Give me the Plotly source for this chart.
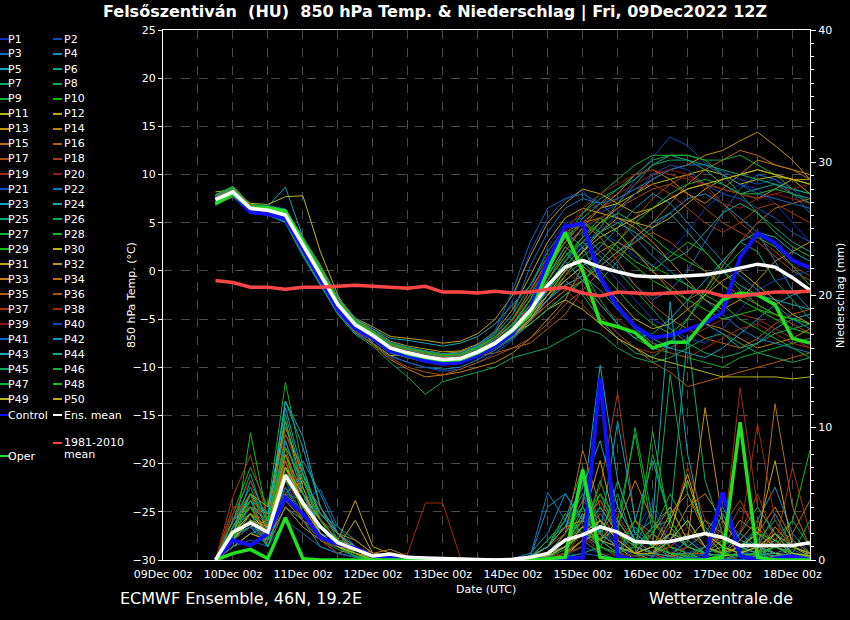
import plotly.graph_objects as go
import pandas as pd

# ---------------- time axis ----------------
times = pd.date_range("2022-12-09 18:00", periods=35, freq="6h")
x_start = "2022-12-09 00:00"
x_end = "2022-12-18 06:00"

# ---------------- main series: 850 hPa temperature (degC) ----------------
temp_mean = [7.4, 8.2, 6.5, 6.3, 5.8, 2.7, -0.4, -3.5, -5.6, -6.7, -8.0, -8.5, -8.9, -9.2, -9.1, -8.4, -7.5, -6.1, -4.1, -1.5, 0.4, 1.1, 0.4, -0.1, -0.5, -0.6, -0.6, -0.5, -0.4, -0.1, 0.3, 0.7, 0.4, -0.7, -2.0]
temp_clim = [-1.0, -1.2, -1.7, -1.7, -1.9, -1.7, -1.7, -1.6, -1.5, -1.6, -1.7, -1.8, -1.6, -2.2, -2.2, -2.3, -2.1, -2.3, -2.2, -1.9, -1.7, -2.3, -2.6, -2.2, -2.3, -2.4, -2.3, -2.2, -2.1, -2.6, -2.6, -2.4, -2.2, -2.2, -2.1]
temp_control = [7.2, 8.0, 6.1, 5.9, 5.4, 2.2, -1.0, -4.0, -6.0, -7.0, -8.3, -8.8, -9.3, -9.6, -9.5, -8.8, -7.8, -6.5, -4.0, 1.0, 4.6, 4.9, -0.6, -3.7, -5.8, -6.9, -6.7, -6.1, -5.4, -4.3, 1.4, 3.9, 2.9, 1.1, 0.3]
temp_oper = [7.0, 8.0, 6.5, 6.5, 6.2, 3.0, -0.3, -3.4, -5.5, -6.6, -8.0, -8.6, -9.0, -9.3, -9.2, -8.5, -7.5, -6.2, -4.5, 0.0, 4.0, 0.0, -5.3, -5.8, -6.4, -8.0, -7.4, -7.4, -5.1, -3.0, -2.3, -2.5, -3.5, -7.0, -7.5]

# ---------------- main series: precipitation (mm / 6h) ----------------
prec_mean = [0, 2.1, 2.8, 2.1, 6.4, 4.3, 2.5, 1.3, 0.8, 0.3, 0.45, 0.2, 0.15, 0.1, 0.05, 0.0, 0.0, 0.05, 0.2, 0.5, 1.5, 1.9, 2.5, 2.1, 1.4, 1.3, 1.4, 1.7, 2.0, 1.7, 1.1, 1.1, 1.1, 1.1, 1.3]
prec_control = [0, 1.5, 1.1, 2.0, 4.7, 3.5, 1.7, 1.2, 0.9, 0.3, 0.2, 0.1, 0, 0, 0, 0, 0, 0, 0, 0.1, 0.1, 0.2, 13.7, 0.3, 0, 0, 0, 0, 0.1, 5.1, 0.3, 0, 0.1, 0.3, 0]
prec_oper = [0, 0.5, 0.8, 0.1, 3.2, 0.1, 0, 0, 0, 0, 0, 0, 0, 0, 0, 0, 0, 0, 0, 0.1, 0.2, 6.8, 0.2, 0, 0, 0, 0, 0, 0, 0.2, 10.4, 0.2, 0, 0, 0]

# ---------------- ensemble members: temperature ----------------
temp_P1 = [7.0, 8.0, 6.2, 6.0, 5.5, 2.0, -1.0, -4.2, -6.3, -7.2, -8.6, -9.0, -9.5, -9.8, -9.4, -8.6, -7.0, -5.0, -2.0, 2.5, 5.0, 5.5, 4.0, 3.0, 1.5, 0.5, 2.0, 4.0, 6.5, 8.0, 9.0, 8.5, 7.0, 5.0, 3.0]
temp_P2 = [7.2, 8.3, 6.4, 6.5, 6.2, 3.0, 0.0, -3.0, -5.0, -6.2, -7.5, -8.0, -8.6, -9.0, -8.8, -8.0, -6.5, -3.0, 2.0, 5.5, 7.4, 8.4, 6.0, 7.0, 9.5, 11.8, 13.9, 13.0, 11.2, 10.3, 9.5, 9.0, 9.5, 8.5, 7.0]
temp_P3 = [7.5, 8.4, 6.6, 6.4, 5.9, 2.8, -0.3, -3.4, -5.5, -6.6, -7.8, -8.3, -8.7, -9.0, -8.9, -8.1, -7.2, -5.5, -3.0, 0.5, 3.0, 4.0, 2.0, 0.5, -1.5, -3.0, -2.0, 0.0, 3.0, 6.0, 8.5, 10.0, 9.5, 8.0, 6.0]
temp_P4 = [6.8, 7.8, 6.0, 5.8, 5.0, 1.5, -1.5, -4.5, -6.5, -7.5, -8.8, -9.5, -10.0, -10.2, -10.0, -9.2, -8.2, -7.0, -5.5, -4.0, -2.5, -1.0, 0.5, 2.0, 3.0, 4.5, 6.0, 7.5, 8.0, 7.0, 5.5, 4.0, 1.0, -2.0, -4.0]
temp_P5 = [7.6, 8.6, 6.8, 6.7, 8.7, 3.5, 0.4, -2.8, -5.0, -6.0, -7.0, -7.2, -7.5, -7.8, -7.5, -6.8, -5.5, -3.5, -1.5, 1.5, 4.0, 2.5, -1.0, -4.0, -6.0, -7.5, -8.0, -7.0, -5.5, -6.5, -8.0, -7.5, -6.0, -5.0, -4.5]
temp_P6 = [7.3, 8.1, 6.5, 6.2, 5.6, 2.5, -0.6, -3.8, -5.8, -6.9, -8.2, -8.8, -9.2, -9.4, -9.3, -8.7, -7.9, -6.5, -4.5, -2.0, 0.0, 2.0, 4.5, 7.0, 9.0, 11.0, 12.0, 11.5, 10.5, 9.0, 8.0, 8.5, 9.0, 8.0, 7.5]
temp_P7 = [7.1, 7.9, 6.3, 6.1, 5.7, 2.6, -0.5, -3.6, -5.9, -7.0, -8.3, -8.9, -9.4, -9.7, -9.6, -8.9, -8.0, -6.8, -5.0, -3.0, -1.0, -2.5, -5.0, -7.0, -8.5, -9.0, -7.5, -5.0, -2.0, 1.0, 3.0, 2.0, -1.0, -3.0, -5.0]
temp_P8 = [7.8, 8.7, 6.9, 6.6, 6.0, 3.2, 0.2, -3.0, -5.2, -6.3, -7.6, -8.0, -8.3, -8.6, -8.5, -7.7, -6.5, -4.5, -1.5, 2.0, 4.5, 6.0, 7.5, 8.5, 10.0, 11.5, 12.0, 12.0, 11.5, 11.5, 12.0, 11.0, 10.0, 8.5, 8.0]
temp_P9 = [7.0, 7.9, 6.2, 6.3, 5.5, 2.2, -0.8, -3.9, -6.0, -7.0, -8.3, -8.7, -9.0, -9.3, -9.2, -8.5, -7.6, -6.0, -3.5, -0.5, 2.0, 0.0, -3.0, -5.5, -7.0, -8.0, -8.5, -9.0, -9.5, -10.0, -9.0, -8.5, -8.0, -7.5, -7.0]
temp_P10 = [7.4, 8.3, 6.6, 6.4, 6.0, 3.0, 0.0, -3.2, -5.4, -6.5, -7.8, -8.3, -8.7, -9.0, -8.9, -8.2, -7.3, -5.8, -3.8, -1.0, 1.5, 3.5, 5.0, 6.0, 5.0, 3.5, 2.0, 1.0, 0.0, -1.5, -3.0, -4.0, -5.0, -6.0, -6.5]
temp_P11 = [8.2, 8.4, 7.0, 6.9, 7.7, 7.8, 2.0, -2.5, -5.5, -7.5, -8.8, -8.6, -8.3, -8.6, -8.4, -7.8, -7.0, -5.5, -3.0, 0.5, 3.0, 5.0, 6.5, 7.0, 8.0, 9.0, 9.5, 10.0, 10.5, 10.0, 9.0, 9.5, 9.8, 9.5, 9.0]
temp_P12 = [7.9, 8.5, 6.8, 6.6, 6.2, 3.4, 0.5, -2.8, -5.0, -6.0, -7.3, -7.8, -8.1, -8.4, -8.3, -7.6, -6.3, -4.0, -0.5, 3.0, 5.5, 6.5, 6.0, 5.5, 5.0, 4.5, 5.5, 7.0, 8.5, 9.5, 10.0, 10.5, 10.0, 9.5, 8.0]
temp_P13 = [7.2, 8.0, 6.4, 6.2, 5.8, 2.6, -0.5, -3.7, -5.8, -6.9, -8.2, -8.6, -9.0, -9.3, -9.1, -8.3, -7.4, -6.2, -4.0, -1.5, 1.0, 3.0, 5.0, 6.5, 8.0, 9.5, 10.5, 11.0, 12.0, 12.5, 13.5, 14.4, 13.0, 11.5, 9.5]
temp_P14 = [6.9, 7.7, 6.1, 5.9, 5.2, 1.8, -1.3, -4.3, -6.4, -7.6, -9.2, -10.2, -11.0, -10.8, -10.5, -10.0, -9.5, -8.5, -7.0, -5.0, -3.0, 0.5, 2.0, 3.0, 2.0, 0.0, -2.0, -4.0, -5.5, -6.0, -7.0, -8.0, -7.5, -7.0, -6.0]
temp_P15 = [7.5, 8.3, 6.6, 6.5, 6.1, 2.9, -0.2, -3.3, -5.4, -6.5, -7.7, -8.2, -8.6, -8.9, -8.8, -8.0, -7.0, -5.0, -2.0, 1.0, 3.5, 5.0, 5.5, 4.0, 2.0, 0.0, -1.5, -3.0, -2.0, 0.5, 3.0, 5.0, 6.5, 7.0, 7.5]
temp_P16 = [7.0, 7.8, 6.2, 6.0, 5.4, 2.3, -0.9, -4.0, -6.1, -7.1, -8.4, -8.9, -9.3, -9.5, -9.4, -8.8, -8.5, -8.0, -7.5, -6.0, -4.5, -2.0, -4.5, -6.5, -8.0, -9.5, -10.5, -12.0, -11.5, -11.0, -10.5, -10.0, -9.5, -9.0, -8.5]
temp_P17 = [7.3, 8.1, 6.5, 6.3, 5.9, 2.8, -0.4, -3.5, -5.7, -6.8, -8.1, -8.6, -9.0, -9.3, -9.2, -8.5, -7.7, -6.3, -4.0, -0.5, 2.5, 4.5, 5.5, 6.5, 7.5, 8.5, 9.0, 8.0, 6.5, 5.0, 4.0, 3.0, 1.5, 0.0, -1.0]
temp_P18 = [7.6, 8.5, 6.7, 6.6, 6.0, 3.1, 0.1, -3.1, -5.3, -6.4, -7.7, -8.3, -8.8, -9.1, -9.0, -8.3, -7.4, -6.0, -4.5, -3.0, -1.5, -0.5, 1.0, 3.0, 5.5, 7.5, 9.0, 10.0, 9.0, 7.0, 5.0, 3.5, 2.0, 0.5, -0.5]
temp_P19 = [7.1, 7.9, 6.3, 6.1, 5.6, 2.4, -0.7, -3.9, -6.0, -7.1, -8.4, -8.8, -9.1, -9.4, -9.3, -8.6, -7.8, -6.7, -5.2, -3.5, -2.0, -3.5, -5.5, -7.0, -8.0, -8.5, -8.0, -7.0, -6.0, -5.0, -4.5, -5.0, -6.0, -7.0, -8.0]
temp_P20 = [7.4, 8.2, 6.5, 6.3, 5.8, 2.7, -0.4, -3.4, -5.5, -6.6, -7.9, -8.4, -8.8, -9.1, -9.0, -8.3, -7.3, -5.5, -2.5, 1.5, 4.5, 6.0, 7.0, 8.0, 9.0, 10.0, 10.5, 10.0, 8.5, 7.0, 6.5, 7.5, 8.0, 7.5, 7.0]
temp_P21 = [7.0, 8.0, 6.1, 5.9, 5.2, 1.9, -1.2, -4.4, -6.5, -7.5, -8.9, -9.5, -10.0, -10.4, -10.2, -9.5, -8.5, -7.2, -5.0, -2.0, 1.0, 3.0, 4.0, 6.0, 8.0, 10.0, 11.0, 10.5, 9.0, 8.0, 7.5, 6.5, 5.5, 4.0, 3.0]
temp_P22 = [7.7, 8.6, 6.8, 6.7, 6.3, 3.4, 0.3, -2.9, -5.1, -6.2, -7.5, -8.0, -8.4, -8.7, -8.6, -7.8, -6.6, -4.5, 0.5, 4.0, 6.5, 7.5, 7.0, 5.5, 3.5, 1.5, 0.0, -1.5, -3.0, -4.5, -6.0, -7.0, -7.5, -8.0, -8.5]
temp_P23 = [7.2, 8.1, 6.4, 6.2, 5.7, 2.5, -0.6, -3.7, -5.8, -6.9, -8.2, -8.7, -9.1, -9.4, -9.3, -8.6, -7.7, -6.4, -4.8, -3.0, -1.5, -0.5, -2.0, -4.0, -6.0, -7.0, -8.0, -8.5, -9.0, -8.0, -6.5, -5.0, -3.5, -2.5, -2.0]
temp_P24 = [7.5, 8.3, 6.6, 6.4, 5.9, 2.8, -0.3, -3.4, -5.6, -6.7, -8.0, -8.5, -8.9, -9.2, -9.1, -8.4, -7.5, -6.0, -3.5, -0.5, 2.5, 1.0, -1.0, 1.0, 3.5, 5.0, 6.0, 4.0, 2.0, 0.0, -1.5, -2.5, -3.0, -3.5, -4.0]
temp_P25 = [7.9, 8.8, 6.9, 6.7, 6.3, 3.3, 0.3, -3.0, -5.2, -6.3, -7.6, -8.1, -8.5, -8.8, -8.7, -8.0, -7.0, -5.5, -3.0, 0.0, 3.0, 5.5, 7.0, 8.5, 9.5, 11.0, 11.5, 11.5, 11.0, 10.5, 10.0, 9.5, 9.0, 8.5, 8.0]
temp_P26 = [6.8, 7.7, 6.0, 5.8, 5.1, 1.7, -1.4, -4.5, -6.6, -7.8, -9.5, -11.0, -12.8, -11.5, -11.0, -10.5, -10.0, -9.0, -8.5, -8.0, -7.0, -6.0, -6.5, -8.0, -9.0, -9.5, -9.0, -8.0, -7.0, -6.5, -7.5, -8.5, -9.0, -9.5, -9.0]
temp_P27 = [7.4, 8.2, 6.5, 6.3, 5.8, 2.7, -0.4, -3.5, -5.6, -6.7, -8.0, -8.5, -8.9, -9.2, -9.1, -8.4, -7.4, -5.8, -3.0, 0.5, 3.5, 6.0, 8.0, 9.5, 11.0, 12.0, 12.0, 12.0, 11.5, 10.0, 8.0, 6.0, 4.0, 2.5, 1.5]
temp_P28 = [7.1, 7.9, 6.3, 6.1, 5.6, 2.5, -0.6, -3.7, -5.8, -6.9, -8.2, -8.6, -9.0, -9.3, -9.2, -8.5, -7.6, -6.3, -4.5, -2.5, -0.5, 1.0, 0.0, -2.0, -4.0, -5.5, -6.5, -5.0, -2.5, 0.0, 2.0, 3.5, 2.5, 0.5, -1.5]
temp_P29 = [7.6, 8.4, 6.7, 6.5, 6.1, 3.0, -0.1, -3.2, -5.4, -6.5, -7.8, -8.4, -8.8, -9.1, -9.0, -8.3, -7.3, -5.9, -4.0, -2.0, 0.0, 1.5, 3.0, 2.0, 0.5, -1.0, -2.0, -3.0, -4.0, -5.0, -4.5, -4.0, -4.5, -5.0, -5.5]
temp_P30 = [7.3, 8.1, 6.4, 6.2, 5.7, 2.6, -0.5, -3.6, -5.7, -6.8, -8.1, -8.6, -9.0, -9.3, -9.2, -8.5, -7.6, -6.5, -5.5, -4.0, -3.0, -4.0, -5.5, -7.0, -8.0, -9.0, -9.5, -10.0, -10.5, -11.0, -11.0, -11.0, -11.0, -11.2, -11.0]
temp_P31 = [7.8, 8.6, 6.9, 6.7, 6.4, 3.5, 0.6, -2.7, -4.9, -5.8, -6.8, -7.0, -7.2, -7.5, -7.3, -6.5, -5.0, -2.5, 1.5, 5.0, 7.0, 8.5, 8.0, 7.0, 6.0, 6.5, 7.5, 8.5, 9.0, 8.5, 8.0, 7.5, 8.5, 9.5, 9.5]
temp_P32 = [7.0, 7.8, 6.2, 6.0, 5.4, 2.2, -1.0, -4.1, -6.2, -7.2, -8.5, -9.0, -9.4, -9.7, -9.5, -8.8, -7.9, -6.8, -5.2, -3.0, -0.5, 2.0, 4.0, 5.5, 4.5, 3.0, 1.0, -1.0, -3.0, -4.0, -3.0, -1.0, 1.0, 2.0, 3.0]
temp_P33 = [7.5, 8.3, 6.6, 6.4, 6.0, 2.9, -0.2, -3.3, -5.4, -6.5, -7.8, -8.3, -8.7, -9.0, -8.9, -8.2, -7.3, -6.0, -4.0, -1.0, 2.0, 4.5, 6.5, 8.0, 10.0, 10.5, 9.5, 8.0, 7.0, 8.5, 10.0, 11.5, 11.0, 10.5, 10.0]
temp_P34 = [7.2, 8.0, 6.4, 6.2, 5.7, 2.6, -0.5, -3.6, -5.7, -6.8, -8.1, -8.6, -9.0, -9.3, -9.2, -8.5, -7.6, -6.5, -5.0, -3.5, -2.0, -1.0, 0.5, 2.0, 3.5, 5.0, 7.0, 9.0, 10.5, 11.5, 12.5, 12.0, 11.0, 10.5, 9.5]
temp_P35 = [7.7, 8.5, 6.8, 6.6, 6.2, 3.2, 0.2, -3.0, -5.2, -6.3, -7.6, -8.1, -8.5, -8.8, -8.7, -7.9, -6.8, -5.0, -2.0, 1.0, 4.0, 5.0, 3.5, 1.0, -1.5, -3.5, -5.0, -6.0, -7.0, -7.5, -8.0, -7.0, -5.5, -4.5, -4.0]
temp_P36 = [6.9, 7.8, 6.1, 5.9, 5.3, 2.0, -1.1, -4.2, -6.3, -7.5, -9.0, -10.0, -10.5, -10.8, -10.2, -9.5, -8.8, -8.0, -7.0, -5.5, -3.5, -2.0, 0.0, 1.5, 3.0, 4.0, 3.0, 1.5, 0.0, -1.5, -2.5, -3.5, -4.5, -5.5, -6.5]
temp_P37 = [7.4, 8.2, 6.5, 6.3, 5.8, 2.7, -0.4, -3.5, -5.6, -6.7, -8.0, -8.5, -8.9, -9.2, -9.1, -8.4, -7.5, -6.0, -3.5, 0.0, 3.0, 5.0, 6.5, 7.5, 8.5, 9.0, 8.0, 6.5, 5.0, 4.0, 5.0, 6.5, 7.0, 6.0, 5.0]
temp_P38 = [7.1, 7.9, 6.3, 6.1, 5.5, 2.4, -0.7, -3.8, -5.9, -7.0, -8.3, -8.8, -9.2, -9.5, -9.4, -8.7, -7.8, -6.6, -4.8, -2.5, 0.0, -1.5, -3.5, -5.0, -6.5, -7.5, -8.5, -9.0, -8.0, -7.0, -6.0, -5.5, -6.5, -7.5, -8.0]
temp_P39 = [7.6, 8.4, 6.7, 6.5, 6.1, 3.0, -0.1, -3.2, -5.4, -6.5, -7.8, -8.3, -8.7, -9.0, -8.9, -8.1, -7.0, -5.2, -2.5, 1.0, 4.0, 6.5, 8.0, 9.0, 10.0, 10.5, 10.0, 9.5, 9.0, 8.5, 8.0, 7.5, 8.0, 8.5, 9.0]
temp_P40 = [7.3, 8.1, 6.4, 6.2, 5.7, 2.6, -0.5, -3.6, -5.7, -6.8, -8.1, -8.6, -9.0, -9.3, -9.2, -8.5, -7.6, -6.2, -4.2, -1.5, 1.0, 2.5, 1.0, -1.0, -3.0, -5.0, -6.0, -7.0, -7.5, -6.0, -4.0, -2.0, -1.0, -0.5, 0.0]
temp_P41 = [7.8, 8.7, 6.9, 6.8, 6.4, 3.5, 0.5, -2.7, -4.9, -6.0, -7.4, -7.9, -8.3, -8.6, -8.5, -7.7, -6.2, -2.0, 3.0, 6.5, 7.5, 8.0, 7.0, 7.5, 8.5, 9.5, 10.5, 11.0, 11.0, 10.0, 9.0, 8.0, 7.5, 7.0, 6.5]
temp_P42 = [7.0, 7.9, 6.2, 6.0, 5.4, 2.2, -0.9, -4.0, -6.1, -7.1, -8.4, -8.9, -9.3, -9.6, -9.5, -8.8, -7.9, -6.6, -5.0, -3.0, -1.0, 0.5, 2.5, 4.5, 6.5, 8.0, 7.0, 5.0, 3.0, 1.0, -0.5, -2.0, -3.5, -5.0, -6.0]
temp_P43 = [7.5, 8.3, 6.6, 6.4, 5.9, 2.8, -0.3, -3.4, -5.5, -6.6, -7.9, -8.4, -8.8, -9.1, -9.0, -8.3, -7.4, -6.0, -4.0, -1.5, 1.0, -1.0, -3.5, -5.5, -7.0, -6.5, -5.0, -3.0, -1.0, 1.0, 3.0, 4.0, 3.5, 2.0, 1.0]
temp_P44 = [7.2, 8.0, 6.4, 6.2, 5.6, 2.5, -0.6, -3.7, -5.8, -6.9, -8.2, -8.7, -9.1, -9.4, -9.3, -8.6, -7.7, -6.4, -4.5, -2.0, 0.5, 2.5, 4.0, 5.0, 4.0, 2.5, 1.0, 2.0, 4.0, 6.0, 7.0, 6.0, 4.5, 3.0, 2.0]
temp_P45 = [7.6, 8.5, 6.7, 6.6, 6.1, 3.1, 0.1, -3.1, -5.3, -6.4, -7.7, -8.2, -8.6, -8.9, -8.8, -8.1, -7.1, -5.6, -3.5, -1.0, 1.5, 3.0, 1.5, 0.0, -2.0, -4.0, -6.0, -7.5, -8.5, -9.0, -8.5, -7.5, -6.5, -6.0, -5.5]
temp_P46 = [7.0, 7.8, 6.2, 6.0, 5.3, 2.1, -1.0, -4.1, -6.2, -7.2, -8.5, -9.0, -9.4, -9.7, -9.6, -8.9, -8.0, -6.9, -5.5, -4.0, -2.5, -1.0, 1.0, 3.0, 5.0, 6.5, 8.0, 9.0, 9.5, 9.0, 8.0, 8.0, 8.5, 8.0, 7.0]
temp_P47 = [7.4, 8.2, 6.5, 6.3, 5.8, 2.7, -0.4, -3.5, -5.6, -6.7, -8.0, -8.5, -8.9, -9.2, -9.1, -8.4, -7.5, -6.1, -4.0, -1.5, 1.0, 3.5, 5.5, 4.0, 2.0, 0.5, -0.5, -1.5, -2.5, -3.5, -5.0, -6.0, -7.0, -8.0, -9.0]
temp_P48 = [7.9, 8.7, 6.9, 6.7, 6.3, 3.4, 0.4, -2.9, -5.1, -6.2, -7.5, -8.0, -8.4, -8.7, -8.6, -7.9, -6.8, -5.0, -2.5, 0.5, 3.5, 5.0, 4.0, 2.5, 1.0, 0.0, 1.5, 3.0, 2.0, 0.0, -2.0, -3.5, -4.5, -5.0, -5.5]
temp_P49 = [7.1, 7.9, 6.3, 6.1, 5.5, 2.3, -0.8, -3.9, -6.0, -7.0, -8.3, -8.8, -9.2, -9.5, -9.4, -8.7, -7.8, -6.7, -5.0, -2.5, 0.0, 2.0, 3.5, 4.5, 5.5, 6.5, 7.5, 8.5, 9.0, 9.5, 10.0, 10.5, 10.0, 9.5, 9.0]
temp_P50 = [7.4, 8.3, 6.5, 6.4, 5.8, 2.7, -0.4, -3.5, -5.6, -6.7, -8.0, -8.5, -8.9, -9.2, -9.1, -8.4, -7.5, -6.3, -4.5, -2.5, -1.0, 0.5, -1.0, -3.0, -5.0, -6.0, -5.5, -4.0, -2.5, -1.0, 0.0, -1.5, -3.0, -4.5, -5.5]

# ---------------- ensemble members: precipitation ----------------
prec_P1 = [0, 1.5, 3.0, 1.0, 5.5, 3.5, 1.5, 0.5, 0.3, 0, 0, 0, 0, 0, 0, 0, 0, 0, 0.2, 0.5, 1.0, 2.5, 4.0, 1.0, 0.3, 0, 0.5, 2.0, 0.5, 0, 0, 0.3, 1.0, 0.5, 0]
prec_P2 = [0, 2.5, 3.5, 2.0, 7.0, 4.0, 2.0, 1.0, 0.5, 0.2, 0, 0, 0, 0, 0, 0, 0, 0, 0, 0, 0.3, 1.0, 0.5, 0, 0, 0.2, 1.5, 0.5, 0, 0.5, 0, 0, 0.2, 0, 0]
prec_P3 = [0, 1.0, 2.0, 2.5, 9.0, 5.5, 3.0, 1.5, 1.0, 0.3, 0.5, 0.2, 0, 0, 0, 0, 0, 0, 0.3, 1.0, 2.5, 6.0, 3.0, 0.5, 1.0, 4.0, 1.0, 0, 0.5, 2.0, 0.5, 0, 0.3, 0.8, 0.2]
prec_P4 = [0, 3.0, 4.5, 1.5, 6.0, 7.5, 5.0, 2.0, 0.5, 0, 0, 0, 0, 0, 0, 0, 0, 0.1, 0.5, 2.0, 5.0, 3.0, 1.0, 0.5, 2.5, 1.0, 0.3, 0, 0, 0.5, 1.5, 3.0, 5.5, 2.0, 0.5]
prec_P5 = [0, 2.0, 6.0, 3.0, 12.0, 9.3, 4.0, 1.5, 0.5, 0, 0, 0, 0, 0, 0, 0, 0, 0, 0.2, 0.5, 2.0, 4.0, 14.7, 6.0, 2.0, 3.0, 19.5, 8.0, 2.0, 1.0, 0.5, 2.5, 1.0, 0.5, 0.3]
prec_P6 = [0, 1.8, 2.5, 1.0, 4.0, 3.0, 1.0, 0.5, 0.2, 0, 0, 0, 0, 0, 0, 0, 0, 0, 0, 0, 0.5, 1.5, 0.5, 0, 0, 0, 0, 0.3, 0, 0, 0, 0.5, 0, 0, 0]
prec_P7 = [0, 2.5, 5.0, 2.5, 11.0, 6.0, 3.5, 2.5, 1.5, 0.5, 0.3, 0, 0, 0, 0, 0, 0, 0, 0.2, 1.5, 3.0, 7.0, 2.0, 5.0, 1.0, 2.5, 4.0, 1.5, 0.5, 0, 0.3, 1.0, 0.5, 0.2, 0]
prec_P8 = [0, 2.0, 2.5, 1.5, 5.0, 3.5, 1.5, 0.8, 0.3, 0, 0, 0, 0, 0, 0, 0, 0, 0, 0, 0, 0.2, 0.5, 1.0, 0.3, 0, 0, 0.2, 0, 0, 0, 0, 0.3, 0.5, 0, 0]
prec_P9 = [0, 3.5, 7.0, 4.0, 13.4, 7.0, 3.0, 1.0, 0.5, 0, 0, 0, 0, 0, 0, 0, 0, 0, 0.3, 1.0, 3.5, 2.0, 5.0, 3.0, 9.5, 2.0, 5.0, 2.5, 1.0, 0.3, 0, 0.5, 1.5, 3.0, 1.0]
prec_P10 = [0, 1.0, 9.6, 3.0, 8.0, 4.0, 2.0, 1.0, 0.3, 0, 0, 0, 0, 0, 0, 0, 0, 0, 0, 0.5, 1.0, 2.0, 4.0, 2.0, 0.5, 1.0, 0.5, 0, 0, 0, 0.5, 0.3, 1.0, 3.0, 8.3]
prec_P11 = [0, 1.5, 3.5, 2.5, 7.5, 3.5, 1.5, 1.0, 3.0, 0.5, 0.3, 0, 0, 0, 0, 0, 0, 0, 0, 0, 0.3, 1.5, 2.0, 1.0, 0.5, 1.0, 2.0, 1.5, 3.0, 2.0, 1.0, 0.5, 1.0, 0.3, 0.5]
prec_P12 = [0, 2.0, 3.0, 2.0, 6.0, 5.0, 3.0, 1.5, 4.5, 1.0, 0.5, 0, 0, 0, 0, 0, 0, 0, 0.1, 0.5, 1.5, 3.0, 2.0, 1.0, 0, 0, 0.5, 0, 0, 0, 0, 0, 0.3, 0.5, 0.2]
prec_P13 = [0, 1.0, 2.0, 1.5, 4.0, 2.5, 1.5, 0.5, 1.0, 0, 0, 0, 0, 0, 0, 0, 0, 0, 0, 0.2, 0.5, 1.0, 3.0, 1.5, 0.5, 0, 0, 0.5, 0, 0, 0.5, 1.0, 0.5, 0, 0]
prec_P14 = [0, 2.5, 4.0, 3.5, 10.0, 6.5, 3.5, 2.0, 1.5, 0.5, 0.8, 0.3, 0, 0, 0, 0, 0, 0, 0.2, 0.5, 1.0, 3.5, 1.5, 2.5, 6.0, 3.0, 1.5, 4.0, 5.0, 3.0, 1.0, 2.0, 4.0, 1.5, 0.5]
prec_P15 = [0, 3.0, 5.0, 1.0, 5.0, 6.0, 4.0, 2.0, 0.5, 0, 0, 0, 0, 0, 0, 0, 0, 0, 0, 0.3, 2.0, 8.3, 4.0, 2.0, 1.0, 0.5, 0, 0, 1.0, 2.0, 0.5, 0.3, 11.8, 4.0, 1.0]
prec_P16 = [0, 1.5, 3.0, 2.0, 8.5, 4.0, 2.0, 1.0, 0.5, 0.2, 0, 0, 0, 0, 0, 0, 0, 0, 0.3, 1.0, 2.0, 4.5, 3.0, 1.5, 3.0, 2.0, 1.0, 0.5, 0.5, 1.0, 0.5, 1.5, 0.5, 0.3, 0.2]
prec_P17 = [0, 4.0, 4.0, 2.5, 9.0, 5.0, 3.5, 2.0, 1.0, 0.3, 0, 0, 0, 0, 0, 0, 0, 0, 0, 0, 0.5, 2.0, 3.5, 1.5, 0.5, 0.3, 0, 1.0, 0.5, 2.5, 4.5, 2.0, 1.0, 0.5, 0.3]
prec_P18 = [0, 4.8, 7.9, 3.0, 7.0, 4.5, 2.0, 1.0, 0.5, 0, 0, 0, 0, 0, 0, 0, 0, 0, 0, 0.2, 1.0, 3.0, 5.5, 12.6, 3.0, 1.0, 2.5, 1.0, 0.5, 3.0, 2.0, 5.0, 1.5, 0.5, 0.2]
prec_P19 = [0, 3.5, 6.0, 2.0, 7.5, 5.0, 3.0, 1.5, 0.8, 0.3, 0.2, 0.5, 4.3, 4.3, 0.2, 0, 0, 0, 0.2, 0.5, 1.0, 2.5, 1.5, 3.5, 1.0, 0.5, 2.0, 7.0, 3.0, 1.0, 13.0, 4.0, 2.0, 1.0, 0.5]
prec_P20 = [0, 2.0, 4.0, 3.0, 6.5, 3.0, 1.5, 0.5, 0.2, 0, 0, 0, 0, 0, 0, 0, 0, 0, 0, 0.3, 1.0, 2.0, 0.5, 0.3, 0, 0, 0.2, 0, 0, 0.3, 0, 0, 0.5, 0.3, 0]
prec_P21 = [0, 1.5, 2.5, 2.0, 6.0, 3.0, 2.0, 1.0, 0.3, 0, 0, 0, 0, 0, 0, 0, 0, 0, 0, 0.5, 1.5, 2.0, 3.0, 1.0, 0.5, 0.3, 0, 0.5, 0.3, 0, 0, 0.5, 0.3, 0, 0]
prec_P22 = [0, 2.0, 3.5, 1.5, 5.0, 4.5, 5.3, 2.5, 1.0, 0.3, 0, 0, 0, 0, 0, 0, 0, 0, 0.3, 5.1, 3.0, 2.0, 1.0, 0.5, 0.3, 0, 0.3, 0, 0, 0, 0.5, 0.5, 0, 0, 0]
prec_P23 = [0, 2.5, 4.5, 3.5, 11.5, 6.5, 3.5, 2.0, 0.8, 0.2, 0, 0, 0, 0, 0, 0, 0, 0, 0.2, 1.0, 2.5, 5.0, 2.0, 10.5, 3.0, 7.5, 3.0, 1.0, 2.0, 4.0, 1.5, 1.0, 3.5, 1.0, 0.5]
prec_P24 = [0, 1.0, 2.0, 2.5, 4.5, 3.5, 2.0, 1.5, 0.5, 0, 0, 0, 0, 0, 0, 0, 0, 0, 0, 0.2, 1.0, 3.5, 1.5, 0.5, 2.0, 1.0, 0.5, 0.5, 0, 0, 0, 0.3, 1.0, 0.5, 0.2]
prec_P25 = [0, 3.0, 5.5, 2.0, 9.5, 7.0, 3.0, 1.5, 0.8, 0, 0, 0, 0, 0, 0, 0, 0, 0, 0.1, 0.5, 1.5, 3.0, 2.0, 1.0, 0.5, 2.5, 3.0, 17.0, 6.0, 2.0, 1.0, 0.5, 0.5, 0.3, 0.2]
prec_P26 = [0, 2.0, 3.0, 1.5, 6.5, 5.0, 2.5, 1.0, 0.5, 0, 0, 0, 0, 0, 0, 0, 0, 0, 0, 0.3, 1.0, 2.0, 4.0, 2.0, 1.0, 0.5, 1.5, 3.0, 1.0, 0.5, 1.0, 2.5, 1.0, 0.5, 0.3]
prec_P27 = [0, 1.5, 4.5, 2.5, 8.0, 4.0, 2.5, 1.0, 0.3, 0, 0, 0, 0, 0, 0, 0, 0, 0, 0, 0, 0.5, 1.5, 6.0, 2.0, 10.0, 3.0, 1.0, 0.5, 0, 0.3, 0.5, 0, 0, 0, 0]
prec_P28 = [0, 2.5, 3.5, 1.0, 5.5, 3.0, 1.5, 1.0, 0.5, 0, 0, 0, 0, 0, 0, 0, 0, 0, 0, 0.3, 1.0, 4.0, 2.0, 1.0, 0.5, 9.7, 2.5, 1.0, 0.5, 1.0, 0.5, 1.5, 3.0, 1.0, 0.5]
prec_P29 = [0, 2.0, 3.0, 2.0, 6.0, 4.0, 2.0, 1.0, 0.5, 0, 0, 0, 0, 0, 0, 0, 0, 0, 0, 0.5, 1.5, 2.5, 1.0, 0.5, 0.3, 0.5, 1.0, 0.5, 0, 0.5, 0.3, 0.5, 1.0, 0.5, 0.3]
prec_P30 = [0, 1.5, 2.5, 3.0, 7.0, 5.0, 3.0, 1.5, 1.0, 0.3, 0, 0, 0, 0, 0, 0, 0, 0, 0, 0.3, 1.0, 2.0, 1.5, 3.0, 1.0, 0.5, 2.0, 1.0, 0.5, 0.3, 0.5, 1.0, 0.5, 0.3, 0.2]
prec_P31 = [0, 2.0, 5.0, 4.0, 10.5, 5.5, 2.0, 1.0, 0.5, 0, 0, 0, 0, 0, 0, 0, 0, 0, 0.2, 1.0, 2.5, 3.0, 7.5, 2.0, 1.0, 0.5, 3.0, 6.0, 2.0, 0.5, 1.0, 0.5, 2.0, 1.0, 0.3]
prec_P32 = [0, 1.0, 2.0, 1.5, 4.5, 3.0, 2.0, 1.0, 0.5, 0.2, 0, 0, 0, 0, 0, 0, 0, 0, 0, 0.2, 0.5, 1.5, 3.0, 1.5, 0.5, 2.0, 4.0, 1.5, 11.5, 3.0, 1.0, 0.5, 2.5, 1.0, 0.5]
prec_P33 = [0, 3.0, 4.0, 2.0, 8.0, 5.0, 2.5, 1.5, 0.5, 0, 0, 0, 0, 0, 0, 0, 0, 0, 0, 0.3, 1.0, 2.0, 3.0, 1.5, 0.5, 1.0, 3.5, 5.0, 2.0, 1.0, 3.0, 2.0, 1.0, 0.5, 0.3]
prec_P34 = [0, 2.0, 3.5, 2.5, 5.5, 3.5, 2.0, 1.0, 0.3, 0, 0, 0, 0, 0, 0, 0, 0, 0, 0, 0.2, 0.5, 1.5, 2.0, 4.0, 1.5, 0.5, 0.3, 0.5, 1.0, 0.5, 0.3, 0.5, 1.0, 2.0, 4.5]
prec_P35 = [0, 1.5, 3.0, 1.5, 6.5, 4.5, 3.0, 2.0, 1.0, 0.5, 0.3, 0, 0, 0, 0, 0, 0, 0, 0.2, 0.5, 1.5, 3.0, 4.5, 2.0, 1.0, 0.5, 1.0, 2.0, 1.0, 0.5, 1.5, 3.0, 1.0, 0.5, 0.3]
prec_P36 = [0, 2.5, 4.0, 2.0, 7.5, 4.0, 2.0, 1.0, 0.5, 0, 0, 0, 0, 0, 0, 0, 0, 0, 0, 0.3, 1.0, 2.5, 1.5, 1.0, 3.0, 1.5, 0.5, 1.0, 0.5, 2.0, 1.0, 0.5, 1.5, 0.5, 0.2]
prec_P37 = [0, 3.0, 5.0, 2.5, 9.5, 6.0, 3.0, 1.5, 0.5, 0, 0, 0, 0, 0, 0, 0, 0, 0, 0, 0.3, 1.0, 2.5, 4.5, 3.0, 1.0, 0.5, 2.0, 1.0, 0.5, 1.5, 4.0, 2.5, 1.0, 7.0, 2.0]
prec_P38 = [0, 4.0, 3.0, 1.5, 5.0, 3.0, 1.5, 1.0, 0.5, 0, 0, 0, 0, 0, 0, 0, 0, 0, 0, 0.2, 0.5, 1.0, 2.0, 1.0, 0.5, 0.3, 1.0, 2.5, 1.0, 0.5, 2.0, 10.3, 3.0, 1.0, 0.5]
prec_P39 = [0, 2.0, 3.0, 2.0, 6.0, 4.0, 2.0, 1.0, 0.3, 0, 0, 0, 0, 0, 0, 0, 0, 0, 0, 0.2, 0.5, 2.0, 1.0, 0.5, 0.3, 0, 0.5, 0.3, 0, 0.5, 1.0, 0.5, 0.3, 0.5, 0.2]
prec_P40 = [0, 1.5, 2.5, 1.5, 5.5, 3.5, 2.0, 1.0, 0.5, 0, 0, 0, 0, 0, 0, 0, 0, 0, 0, 0.3, 1.0, 2.0, 1.5, 1.0, 2.0, 4.5, 1.5, 0.5, 1.0, 0.5, 0.3, 1.0, 2.0, 0.5, 0.3]
prec_P41 = [0, 1.0, 1.5, 1.0, 3.0, 2.0, 1.0, 0.5, 0.2, 0, 0, 0, 0, 0, 0, 0, 0, 0, 0, 0, 0.3, 0.5, 0.3, 0, 0, 0, 0, 0.2, 0, 0, 0, 0.3, 0, 0, 0]
prec_P42 = [0, 2.0, 4.0, 3.0, 9.0, 5.0, 2.5, 1.5, 0.8, 0.2, 0, 0, 0, 0, 0, 0, 0, 0, 0.2, 4.0, 5.0, 3.0, 2.0, 1.0, 0.5, 0.3, 1.5, 3.0, 1.0, 0.5, 2.0, 1.0, 0.5, 1.0, 0.5]
prec_P43 = [0, 2.5, 5.0, 3.5, 12.0, 8.5, 4.0, 2.0, 1.0, 0, 0, 0, 0, 0, 0, 0, 0, 0, 0.3, 1.0, 3.0, 5.5, 9.0, 4.0, 1.5, 0.5, 2.0, 1.0, 0.5, 3.5, 1.0, 0.5, 1.5, 0.5, 0.3]
prec_P44 = [0, 1.5, 3.0, 1.0, 5.0, 6.5, 2.0, 1.0, 0.3, 0, 0, 0, 0, 0, 0, 0, 0, 0, 0, 0.5, 1.0, 2.0, 1.0, 3.0, 1.0, 0.5, 0.3, 1.5, 0.5, 0.3, 1.0, 0.5, 0.3, 0.5, 0.2]
prec_P45 = [0, 3.0, 6.5, 2.5, 10.5, 5.0, 2.0, 1.0, 0.5, 0, 0, 0, 0, 0, 0, 0, 0, 0, 0.2, 1.5, 2.5, 4.0, 1.5, 6.0, 2.0, 1.0, 14.0, 5.0, 2.5, 1.0, 2.0, 4.0, 2.0, 1.0, 0.5]
prec_P46 = [0, 2.0, 3.0, 2.0, 6.0, 4.5, 2.5, 1.5, 0.5, 0, 0, 0, 0, 0, 0, 0, 0, 0, 0, 0.2, 0.8, 2.0, 1.5, 0.5, 1.0, 2.0, 0.5, 0.3, 0, 0.5, 0.3, 0.5, 1.0, 0.5, 0.2]
prec_P47 = [0, 2.5, 4.0, 1.5, 7.0, 3.5, 2.0, 1.0, 0.3, 0, 0, 0, 0, 0, 0, 0, 0, 0, 0, 0.3, 1.5, 3.0, 5.0, 2.0, 1.0, 8.0, 3.0, 1.0, 0.5, 1.5, 1.0, 2.0, 1.5, 0.5, 3.0]
prec_P48 = [0, 1.5, 5.0, 3.0, 8.5, 6.0, 3.0, 1.5, 0.5, 0, 0, 0, 0, 0, 0, 0, 0, 0, 0, 0.5, 1.5, 2.5, 1.0, 0.5, 3.0, 1.0, 0.5, 0.3, 1.0, 0.5, 0.3, 0.5, 1.0, 0.5, 0.3]
prec_P49 = [0, 2.0, 3.5, 2.0, 6.5, 4.0, 2.0, 1.0, 0.5, 0, 0, 0, 0, 0, 0, 0, 0, 0, 0, 0.3, 1.0, 2.0, 3.0, 1.5, 0.5, 1.0, 2.0, 6.5, 2.0, 1.0, 0.5, 1.0, 2.0, 0.5, 0.3]
prec_P50 = [0, 1.5, 3.0, 2.5, 7.0, 4.5, 2.0, 1.0, 0.8, 0.2, 0, 0, 0, 0, 0, 0, 0, 0, 0, 0.3, 1.0, 2.5, 1.5, 1.0, 0.5, 0.5, 1.5, 3.0, 1.0, 0.5, 1.0, 2.0, 7.5, 1.0, 0.5]

member_names = ["P%d" % i for i in range(1, 51)]
temp_members = [globals()["temp_" + n] for n in member_names]
prec_members = [globals()["prec_" + n] for n in member_names]

member_colors = [
    "#1030b8", "#1048b8", "#1068c0", "#1090c8", "#10a8b8", "#10a890", "#10a868", "#10a848", "#10b028", "#10c010",
    "#b8b810", "#c0a410", "#c09010", "#c08010", "#b86c10", "#b05c10", "#a84c10", "#a83c10", "#a02c10", "#901818",
    "#1050c0", "#1078c0", "#10a0c0", "#10a8a8", "#10a878", "#10a858", "#10b030", "#10b828", "#10c010", "#b8b810",
    "#c0a010", "#c09010", "#c08010", "#b87010", "#b06010", "#b05010", "#a83810", "#a02810", "#901818", "#1040c0",
    "#1068c0", "#1090c0", "#10a8b8", "#10a890", "#10a860", "#10b040", "#10b820", "#10c010", "#b8b810", "#c0a810",
]
col_control = "#1010ff"
col_oper = "#22e022"
col_mean = "#ffffff"
col_clim = "#ff4646"

FONT = "DejaVu Sans"
fig = go.Figure()

# temperature members
for n, vals, c in zip(member_names, temp_members, member_colors):
    fig.add_trace(go.Scatter(x=times, y=vals, mode="lines", name=n, line=dict(color=c, width=1),
                             hoverinfo="skip", yaxis="y"))
fig.add_trace(go.Scatter(x=times, y=temp_control, mode="lines", name="Control", line=dict(color=col_control, width=4), yaxis="y"))
fig.add_trace(go.Scatter(x=times, y=temp_oper, mode="lines", name="Oper", line=dict(color=col_oper, width=3.5), yaxis="y"))
fig.add_trace(go.Scatter(x=times, y=temp_mean, mode="lines", name="Ens. mean", line=dict(color=col_mean, width=3.5), yaxis="y"))
fig.add_trace(go.Scatter(x=times, y=temp_clim, mode="lines", name="1981-2010 mean", line=dict(color=col_clim, width=3.5), yaxis="y"))

# precipitation members
for n, vals, c in zip(member_names, prec_members, member_colors):
    fig.add_trace(go.Scatter(x=times, y=vals, mode="lines", name=n, line=dict(color=c, width=1),
                             hoverinfo="skip", yaxis="y2", showlegend=False))
fig.add_trace(go.Scatter(x=times, y=prec_control, mode="lines", name="Control", line=dict(color=col_control, width=4), yaxis="y2", showlegend=False))
fig.add_trace(go.Scatter(x=times, y=prec_oper, mode="lines", name="Oper", line=dict(color=col_oper, width=3.5), yaxis="y2", showlegend=False))
fig.add_trace(go.Scatter(x=times, y=prec_mean, mode="lines", name="Ens. mean", line=dict(color=col_mean, width=3.5), yaxis="y2", showlegend=False))

# ---------------- layout geometry (window pixels) ----------------
W, H = 850, 620
L, R, T, B = 163, 810, 30, 560


def px(x):
    return (x - L) / (R - L)


def py(y):
    return (B - y) / (B - T)


grid_col = "#4a4a4a"
fig.update_layout(
    width=W, height=H,
    paper_bgcolor="black", plot_bgcolor="black",
    margin=dict(l=L, r=W - R, t=T, b=H - B, pad=0),
    showlegend=False,
    hovermode=False,
    font=dict(family=FONT, color="white", size=11),
    xaxis=dict(type="date", range=[x_start, x_end], tick0="2022-12-09", dtick=86400000,
               tickformat="%d%b %Hz", showgrid=True, gridcolor=grid_col, griddash="dash", gridwidth=1,
               minor=dict(dtick=43200000, showgrid=True, gridcolor=grid_col, griddash="dash", gridwidth=1),
               showline=True, linecolor="white", linewidth=1, mirror=True,
               ticks="outside", ticklen=4, tickcolor="rgba(0,0,0,0)", zeroline=False,
               tickfont=dict(size=11, color="white", family=FONT)),
    yaxis=dict(range=[-30, 25], dtick=5, tick0=0, showgrid=True, gridcolor=grid_col, griddash="dash", gridwidth=1,
               showline=True, linecolor="white", linewidth=1, mirror=True, ticks="outside", ticklen=4,
               tickcolor="white", zeroline=False, tickfont=dict(size=11, color="white", family=FONT)),
    yaxis2=dict(range=[0, 40], overlaying="y", side="right", dtick=10, tick0=0, showgrid=False,
                showline=True, linecolor="white", linewidth=1, ticks="outside", ticklen=5, tickcolor="white",
                minor=dict(dtick=1, ticks="outside", ticklen=3, tickcolor="white", showgrid=False),
                zeroline=False, tickfont=dict(size=11, color="white", family=FONT)),
)

annotations = []
shapes = []


def text_at(text, x, y, size=11, xanchor="center", angle=0):
    annotations.append(dict(text=text, x=px(x), y=py(y), xref="paper", yref="paper", showarrow=False,
                            xanchor=xanchor, yanchor="middle", textangle=angle, borderpad=0,
                            font=dict(size=size, color="white", family=FONT)))


text_at("<b>Felsőszentiván&nbsp; (HU)&nbsp; 850 hPa Temp. &amp; Niederschlag | Fri, 09Dec2022 12Z</b>", 435, 12, size=16)
text_at("850 hPa Temp. (°C)", 131, 295, angle=-90)
text_at("Niederschlag (mm)", 840, 295, angle=-90)
text_at("Date (UTC)", 486, 589)
text_at("ECMWF Ensemble, 46N, 19.2E", 119, 598, size=16, xanchor="left")
text_at("Wetterzentrale.de", 794, 598, size=16, xanchor="right")


def legend_item(label, color, sx, row_y, text_x, swatch_w=9):
    shapes.append(dict(type="line", xref="paper", yref="paper", x0=px(sx), x1=px(sx + swatch_w),
                       y0=py(row_y), y1=py(row_y), line=dict(color=color, width=2)))
    text_at(label, text_x, row_y, xanchor="left")


for k in range(25):
    ry = 39 + 15 * k
    legend_item(member_names[2 * k], member_colors[2 * k], 0, ry, 7)
    legend_item(member_names[2 * k + 1], member_colors[2 * k + 1], 53, ry, 63)

legend_item("Control", col_control, 0, 415, 7)
legend_item("Ens. mean", col_mean, 53, 415, 63)
legend_item("1981-2010", col_clim, 53, 443, 63)
text_at("mean", 63, 454, xanchor="left")
legend_item("Oper", col_oper, 0, 456, 7)

fig.update_layout(annotations=annotations, shapes=shapes)

# remove the default 8px page margin so the 850x620 figure fills the window exactly;
# hide the interactive mode bar so it never covers the title
fig.write_html("out.html",
               config={"displayModeBar": False},
               post_script="document.body.style.margin='0';document.body.style.padding='0';")
